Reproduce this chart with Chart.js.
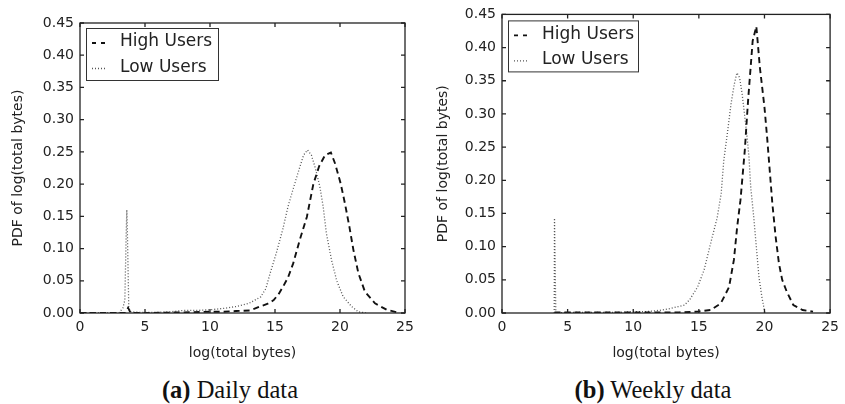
<!DOCTYPE html>
<html>
<head>
<meta charset="utf-8">
<script src="https://cdn.jsdelivr.net/npm/chart.js@4.4.1/dist/chart.umd.min.js"></script>
<style>
  html, body { margin:0; padding:0; background:#fff; }
  body { width:845px; height:404px; position:relative; overflow:hidden; }
  canvas { position:absolute; top:0; }
  .cap { position:absolute; top:378px; font-family:"Liberation Serif","Times New Roman",serif; font-size:24.5px; line-height:24px; color:#111; white-space:nowrap; transform:translateX(-50%); }
  .cap b { font-weight:bold; }
</style>
</head>
<body>
<canvas id="c1" width="420" height="370" style="left:0px"></canvas>
<canvas id="c2" width="420" height="370" style="left:425px"></canvas>
<div class="cap" style="left:230px"><b>(a)</b> Daily data</div>
<div class="cap" style="left:653px"><b>(b)</b> Weekly data</div>
<script>
// ---- data ----
const seriesNames = ["High Users", "Low Users"];
const xTitle = "log(total bytes)";
const yTitle = "PDF of log(total bytes)";
const captions = ["(a) Daily data", "(b) Weekly data"];

const highDailyX = [0, 3.5, 3.7, 3.9, 5, 8, 10, 11, 12, 13.1, 13.85, 14.4, 14.9, 15.3, 15.65, 16.0, 16.4, 16.9, 17.45, 17.95, 18.4, 18.85, 19.3, 19.62, 20.05, 20.38, 20.72, 21.03, 21.41, 21.92, 22.69, 23.59, 24.6];
const highDailyY = [0, 0, 0.008, 0, 0, 0.001, 0.002, 0.002, 0.003, 0.004, 0.01, 0.014, 0.02, 0.03, 0.042, 0.055, 0.077, 0.113, 0.149, 0.2, 0.228, 0.245, 0.249, 0.232, 0.201, 0.17, 0.134, 0.098, 0.062, 0.033, 0.015, 0.005, 0];

const lowDailyX = [0, 3.0, 3.3, 3.45, 3.55, 3.6, 3.65, 3.75, 3.85, 4.5, 6, 7, 8, 9, 10, 11, 12, 13, 13.9, 14.3, 14.6, 15.1, 15.6, 16.0, 16.3, 16.9, 17.2, 17.5, 17.8, 18.1, 18.45, 18.7, 18.95, 19.35, 19.75, 20.25, 20.9, 21.4, 22];
const lowDailyY = [0, 0, 0.008, 0.02, 0.12, 0.16, 0.12, 0.01, 0.002, 0.001, 0.001, 0.002, 0.004, 0.004, 0.005, 0.007, 0.01, 0.015, 0.025, 0.038, 0.06, 0.093, 0.13, 0.165, 0.186, 0.226, 0.245, 0.253, 0.245, 0.225, 0.196, 0.166, 0.124, 0.082, 0.05, 0.025, 0.01, 0.002, 0];

const highWeeklyX = [4, 10, 12, 13.5, 14.9, 15.9, 16.67, 17.3, 17.67, 17.92, 18.17, 18.5, 18.75, 19.1, 19.38, 19.65, 20.0, 20.2, 20.4, 20.6, 20.85, 21.1, 21.35, 21.7, 22.2, 22.9, 23.7];
const highWeeklyY = [0.001, 0.001, 0.001, 0.001, 0.002, 0.0045, 0.0145, 0.039, 0.08, 0.13, 0.17, 0.245, 0.32, 0.41, 0.432, 0.37, 0.31, 0.265, 0.215, 0.165, 0.115, 0.075, 0.05, 0.032, 0.012, 0.0045, 0.002];

const lowWeeklyX = [3.98, 4.0, 4.1, 5, 7, 9, 10, 11, 12, 12.65, 13.4, 13.9, 14.3, 14.9, 15.4, 15.9, 16.4, 16.7, 16.9, 17.2, 17.45, 17.7, 17.9, 18.1, 18.3, 18.65, 18.82, 18.95, 19.18, 19.4, 19.58, 19.8, 20.0, 20.05];
const lowWeeklyY = [0, 0.143, 0, 0.001, 0.001, 0.001, 0.002, 0.002, 0.004, 0.006, 0.0095, 0.012, 0.02, 0.039, 0.065, 0.105, 0.144, 0.18, 0.23, 0.275, 0.315, 0.345, 0.362, 0.355, 0.33, 0.27, 0.235, 0.19, 0.145, 0.095, 0.054, 0.0245, 0.003, 0];

const xTicks = [0, 5, 10, 15, 20, 25];
const yTicks = [0, 0.05, 0.10, 0.15, 0.20, 0.25, 0.30, 0.35, 0.40, 0.45];

// ---- helpers ----
const pts = (xs, ys) => xs.map((v, i) => ({x: v, y: ys[i]}));
const FONT = "'DejaVu Sans', sans-serif";
const INK = '#222';

const framePlugin = {
  id: 'frameBox',
  afterDatasetsDraw(chart, args, opts) {
    const {ctx, chartArea: {left, right, top, bottom}, scales: {x, y}} = chart;
    ctx.save();
    // frame
    ctx.strokeStyle = INK; ctx.lineWidth = 1.3; ctx.setLineDash([]);
    ctx.strokeRect(left, top, right - left, bottom - top);
    const L = 4;
    ctx.beginPath();
    x.ticks.forEach(t => { const px = x.getPixelForValue(t.value);
      ctx.moveTo(px, bottom); ctx.lineTo(px, bottom - L);
      ctx.moveTo(px, top); ctx.lineTo(px, top + L); });
    y.ticks.forEach(t => { const py = y.getPixelForValue(t.value);
      ctx.moveTo(left, py); ctx.lineTo(left + L, py);
      ctx.moveTo(right, py); ctx.lineTo(right - L, py); });
    ctx.stroke();
    // legend
    const bx = left + opts.dx, by = top + opts.dy;
    ctx.fillStyle = '#fff';
    ctx.fillRect(bx, by, opts.w, opts.h);
    ctx.lineWidth = 1; ctx.strokeStyle = '#333';
    ctx.strokeRect(bx + 0.5, by + 0.5, opts.w, opts.h);
    ctx.font = "17px " + FONT;
    ctx.textBaseline = 'middle';
    ctx.fillStyle = INK;
    const sampleDash = [[4, 5], [1, 2]];
    chart.data.datasets.forEach((ds, i) => {
      const ry = by + 14 + i * 25.5;
      ctx.beginPath();
      ctx.strokeStyle = ds.borderColor; ctx.lineWidth = ds.borderWidth;
      ctx.setLineDash(sampleDash[i]);
      ctx.moveTo(bx + 6, ry + 1); ctx.lineTo(bx + 20, ry + 1);
      ctx.stroke();
      ctx.setLineDash([]);
      ctx.fillText(ds.label, bx + 34, ry);
    });
    ctx.restore();
  }
};

function makeChart(id, high, low, pad, yW, legendOpts) {
  return new Chart(document.getElementById(id), {
    type: 'line',
    data: {
      datasets: [
        { label: seriesNames[0], data: high, borderColor: '#111', borderWidth: 1.9, borderDash: [6, 4], pointRadius: 0, fill: false, tension: 0 },
        { label: seriesNames[1], data: low, borderColor: '#555', borderWidth: 1.3, borderDash: [1, 2], pointRadius: 0, fill: false, tension: 0 }
      ]
    },
    options: {
      responsive: false, animation: false, devicePixelRatio: 1,
      layout: { padding: pad },
      plugins: { legend: { display: false }, tooltip: { enabled: false }, frameBox: legendOpts },
      scales: {
        x: {
          type: 'linear', min: 0, max: 25,
          afterBuildTicks: s => { s.ticks = xTicks.map(v => ({value: v})); },
          afterFit: s => { s.height = 57; },
          grid: { display: false, drawTicks: false }, border: { display: false },
          ticks: { color: INK, font: { family: FONT, size: 14 }, padding: 6, maxRotation: 0, callback: v => String(v) },
          title: { display: true, text: xTitle, color: INK, font: { family: FONT, size: 14 }, padding: { top: 0, bottom: 8 } }
        },
        y: {
          type: 'linear', min: 0, max: 0.45,
          afterBuildTicks: s => { s.ticks = yTicks.map(v => ({value: v})); },
          afterFit: s => { s.width = yW; },
          grid: { display: false, drawTicks: false }, border: { display: false },
          ticks: { color: INK, font: { family: FONT, size: 14 }, padding: 6, callback: v => Number(v).toFixed(2) },
          title: { display: true, text: yTitle, color: INK, font: { family: FONT, size: 14 }, padding: { top: 10, bottom: 0 } }
        }
      }
    },
    plugins: [framePlugin]
  });
}

makeChart('c1', pts(highDailyX, highDailyY), pts(lowDailyX, lowDailyY), { top: 23, right: 15, left: 0, bottom: 0 }, 80, { dx: 6, dy: 5, w: 132, h: 52 });
makeChart('c2', pts(highWeeklyX, highWeeklyY), pts(lowWeeklyX, lowWeeklyY), { top: 13, right: 11, left: 0, bottom: 0 }, 77, { dx: 6, dy: 6, w: 130, h: 51 });
</script>
</body>
</html>
